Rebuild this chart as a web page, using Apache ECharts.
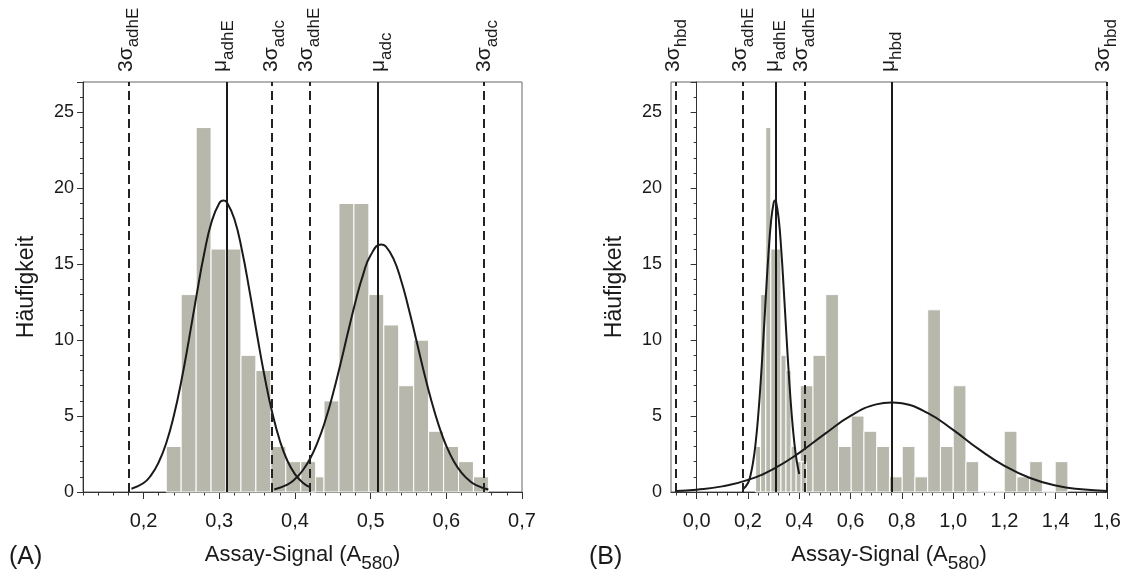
<!DOCTYPE html>
<html>
<head>
<meta charset="utf-8">
<script src="https://cdn.jsdelivr.net/npm/echarts@6/dist/echarts.min.js"></script>
<style>
  html, body { margin: 0; padding: 0; background: #fff; }
  #chart { width: 1129px; height: 579px; }
</style>
</head>
<body>
<div id="chart"></div>
<script>
// ---- Histogram data (bin edges in A580, counts) ----
const adhEEdges  = [0.2300, 0.2497, 0.2695, 0.2892, 0.3090, 0.3287, 0.3484, 0.3682, 0.3879, 0.4077, 0.4274];
const adhECounts = [3, 13, 24, 16, 16, 9, 8, 3, 2, 2];

const adcEdges  = [0.4187, 0.4384, 0.4582, 0.4779, 0.4977, 0.5174, 0.5371, 0.5569, 0.5766, 0.5964, 0.6161, 0.6358, 0.6556];
const adcCounts = [1, 6, 19, 19, 13, 11, 7, 10, 4, 3, 2, 1];

const hbdEdges  = [0.4039, 0.4536, 0.5033, 0.5530, 0.6027, 0.6524, 0.7021, 0.7518, 0.8015, 0.8512, 0.9009,
                   0.9506, 1.0003, 1.0500, 1.0997, 1.1494, 1.1991, 1.2488, 1.2985, 1.3482, 1.3979, 1.4476];
const hbdCounts = [7, 9, 13, 3, 5, 4, 3, 1, 3, 1, 12, 3, 7, 2, 0, 0, 4, 1, 2, 0, 2];

// ---- Fitted normal curves (x in A580, y = frequency) ----
const adhECurveAX = [0.184, 0.20, 0.21, 0.22, 0.23, 0.24, 0.25, 0.26, 0.27, 0.28, 0.29, 0.30, 0.3055, 0.31, 0.32, 0.33, 0.34, 0.35, 0.36, 0.37, 0.38, 0.39, 0.40, 0.41, 0.419];
const adhECurveAY = [0.21, 0.59, 1.11, 1.96, 3.23, 5.02, 7.33, 10.05, 12.95, 15.67, 17.81, 19.02, 19.2, 19.08, 17.98, 15.92, 13.24, 10.34, 7.59, 5.23, 3.39, 2.06, 1.18, 0.63, 0.34];

const adcCurveX = [0.3727, 0.39, 0.40, 0.41, 0.42, 0.43, 0.44, 0.45, 0.46, 0.47, 0.48, 0.49, 0.50, 0.514, 0.52, 0.53, 0.54, 0.55, 0.56, 0.57, 0.58, 0.59, 0.60, 0.61, 0.62, 0.63, 0.64, 0.6555];
const adcCurveY = [0.17, 0.49, 0.85, 1.40, 2.19, 3.28, 4.69, 6.42, 8.40, 10.50, 12.53, 14.30, 15.59, 16.3, 16.17, 15.38, 13.98, 12.14, 10.08, 7.99, 6.06, 4.39, 3.03, 2.01, 1.27, 0.77, 0.44, 0.17];

const adhECurveBX = [0.181, 0.20, 0.21, 0.22, 0.23, 0.24, 0.25, 0.26, 0.27, 0.28, 0.29, 0.30, 0.3055, 0.31, 0.32, 0.33, 0.34, 0.35, 0.36, 0.37, 0.38, 0.39, 0.40];
const adhECurveBY = [0.18, 0.59, 1.11, 1.96, 3.23, 5.02, 7.33, 10.05, 12.95, 15.67, 17.81, 19.02, 19.2, 19.08, 17.98, 15.92, 13.24, 10.34, 7.59, 5.23, 3.39, 2.06, 1.18];

const hbdCurveX = [-0.08, 0.0, 0.1, 0.2, 0.3, 0.4, 0.5, 0.6, 0.7, 0.76, 0.8, 0.9, 1.0, 1.1, 1.2, 1.3, 1.4, 1.5, 1.6];
const hbdCurveY = [0.07, 0.15, 0.37, 0.80, 1.53, 2.58, 3.83, 5.01, 5.77, 5.9, 5.84, 5.21, 4.09, 2.82, 1.72, 0.92, 0.43, 0.18, 0.07];

// ---- Reference lines (mean and 3-sigma limits) ----
const linesAX   = [0.1805, 0.3055, 0.3727, 0.4187, 0.5138, 0.6546];
const linesASym = ['3σ', 'μ', '3σ', '3σ', 'μ', '3σ'];
const linesASub = ['adhE', 'adhE', 'adc', 'adhE', 'adc', 'adc'];

const linesBX   = [-0.08, 0.1806, 0.3065, 0.4195, 0.759, 1.598];
const linesBSym = ['3σ', '3σ', 'μ', '3σ', 'μ', '3σ'];
const linesBSub = ['hbd', 'adhE', 'adhE', 'adhE', 'hbd', 'hbd'];

// ---- Axis ticks ----
const ticksA = [0.2, 0.3, 0.4, 0.5, 0.6, 0.7];
const ticksB = [0.0, 0.2, 0.4, 0.6, 0.8, 1.0, 1.2, 1.4, 1.6];
const rangeA = [0.12, 0.7];
const rangeB = [-0.1, 1.6];
const yMax = 27;

const FONT = "'Liberation Sans', Arial, sans-serif";
const BAR = '#b7b8ab';
const INK = '#1a1a1a';

function minorTicks(from, to, step) {
  const out = [];
  for (let i = 0; from + i * step <= to + 1e-9; i++) out.push(+(from + i * step).toFixed(4));
  return out;
}

function comma(v) { return v.toFixed(1).replace('.', ','); }

function pairs(xs, ys) { return xs.map((x, i) => [x, ys[i]]); }

function bins(edges, counts) { return counts.map((c, i) => [edges[i], edges[i + 1], c]); }

function histSeries(data, axis) {
  return {
    type: 'custom',
    xAxisIndex: axis.x, yAxisIndex: axis.y,
    data: data,
    encode: { x: [0, 1], y: 2 },
    silent: true,
    z: 2,
    renderItem: function (params, api) {
      const p0 = api.coord([api.value(0), 0]);
      const p1 = api.coord([api.value(1), api.value(2)]);
      return {
        type: 'rect',
        shape: { x: p0[0], y: p1[1], width: p1[0] - p0[0], height: p0[1] - p1[1] },
        style: { fill: BAR, stroke: '#ffffff', lineWidth: 1 }
      };
    }
  };
}

function curveSeries(xs, ys, axis) {
  return {
    type: 'line', xAxisIndex: axis.x, yAxisIndex: axis.y,
    data: pairs(xs, ys), smooth: 0.5, showSymbol: false, symbol: 'none', silent: true,
    lineStyle: { color: INK, width: 2 }, z: 4
  };
}

function lineSeries(xs, syms, axis) {
  return {
    type: 'line', xAxisIndex: axis.x, yAxisIndex: axis.y, data: [], silent: true, z: 5,
    markLine: {
      silent: true, symbol: 'none', animation: false,
      label: { show: false },
      data: xs.map((x, i) => ({
        xAxis: x,
        lineStyle: syms[i] === 'μ'
          ? { color: INK, width: 2, type: 'solid' }
          : { color: '#222', width: 2, type: [9, 5] }
      }))
    }
  };
}

function topLabel(xs, syms, subs) {
  return function (value) {
    let k = 0, best = Infinity;
    xs.forEach((x, i) => { const d = Math.abs(x - value); if (d < best) { best = d; k = i; } });
    return '{m|' + syms[k] + '}{s|' + subs[k] + '}';
  };
}

// subscripts: taller line box, bottom aligned, so the smaller text sits lower
const topRich = {
  m: { fontSize: 21, fontFamily: FONT, color: INK, lineHeight: 21, verticalAlign: 'top' },
  s: { fontSize: 17, fontFamily: FONT, color: INK, lineHeight: 27, verticalAlign: 'bottom' }
};

const nameRich = {
  n: { fontSize: 22, fontFamily: FONT, color: INK, lineHeight: 22, verticalAlign: 'top' },
  s: { fontSize: 19, fontFamily: FONT, color: INK, lineHeight: 29, verticalAlign: 'bottom' }
};

function bottomAxes(grid, range, ticks) {
  const minor = range === rangeA ? minorTicks(0.12, 0.7, 0.02) : minorTicks(-0.08, 1.6, 0.04);
  return [
    {
      type: 'value', gridIndex: grid, position: 'bottom', min: range[0], max: range[1],
      name: '{n|Assay-Signal (A}{s|580}{n|)}', nameLocation: 'middle', nameGap: 52,
      nameTextStyle: { rich: nameRich },
      axisLine: { show: true, onZero: false, lineStyle: { color: '#333', width: 1 } },
      axisTick: { show: true, customValues: ticks, length: 7, lineStyle: { color: '#333' } },
      axisLabel: { customValues: ticks, formatter: comma, fontSize: 20, fontFamily: FONT, color: INK, margin: 19 },
      splitLine: { show: false }
    },
    {
      type: 'value', gridIndex: grid, position: 'bottom', min: range[0], max: range[1],
      axisLine: { show: false },
      axisTick: { show: true, customValues: minor, length: 3.5, lineStyle: { color: '#333' } },
      axisLabel: { show: false },
      splitLine: { show: false }
    }
  ];
}

function topAxis(grid, range, xs, syms, subs) {
  return {
    type: 'value', gridIndex: grid, position: 'top', min: range[0], max: range[1],
    axisLine: { show: false },
    axisTick: { show: false },
    axisLabel: {
      customValues: xs, rotate: -90, margin: 10,
      formatter: topLabel(xs, syms, subs), rich: topRich
    },
    splitLine: { show: false }
  };
}

function yAxis(grid) {
  return {
    type: 'value', gridIndex: grid, min: 0, max: yMax, interval: 5,
    name: 'Häufigkeit', nameLocation: 'middle', nameGap: 45,
    nameTextStyle: { fontSize: 23, fontFamily: FONT, color: INK },
    axisLine: { show: true, lineStyle: { color: '#333', width: 1 } },
    axisTick: { show: true, length: 6, lineStyle: { color: '#333' } },
    minorTick: { show: true, splitNumber: 5, length: 3, lineStyle: { color: '#333' } },
    axisLabel: { fontSize: 18, fontFamily: FONT, color: INK, margin: 9, showMaxLabel: false },
    splitLine: { show: false }
  };
}

const xAxes = [
  ...bottomAxes(0, rangeA, ticksA),                       // 0, 1
  topAxis(0, rangeA, linesAX, linesASym, linesASub),      // 2
  ...bottomAxes(1, rangeB, ticksB),                       // 3, 4
  topAxis(1, rangeB, linesBX, linesBSym, linesBSub)       // 5
];

const A = { x: 0, y: 0 };
const B = { x: 3, y: 1 };

const option = {
  animation: false,
  backgroundColor: '#ffffff',
  grid: [
    { left: 83, right: 607, top: 82, bottom: 87, show: true, borderColor: '#666', borderWidth: 1, outerBoundsMode: 'none' },
    { left: 671, right: 22, top: 82, bottom: 87, show: true, borderColor: '#666', borderWidth: 1, outerBoundsMode: 'none' }
  ],
  xAxis: xAxes,
  yAxis: [yAxis(0), yAxis(1)],
  graphic: [
    { type: 'text', left: 9, top: 545, style: { text: '(A)', fontSize: 25, fontFamily: FONT, fill: INK } },
    { type: 'text', left: 589, top: 545, style: { text: '(B)', fontSize: 25, fontFamily: FONT, fill: INK } }
  ],
  series: [
    histSeries(bins(adcEdges, adcCounts), A),
    histSeries(bins(adhEEdges, adhECounts), A),
    curveSeries(adhECurveAX, adhECurveAY, A),
    curveSeries(adcCurveX, adcCurveY, A),
    lineSeries(linesAX, linesASym, A),

    histSeries(bins(hbdEdges, hbdCounts), B),
    histSeries(bins(adhEEdges, adhECounts), B),
    curveSeries(adhECurveBX, adhECurveBY, B),
    curveSeries(hbdCurveX, hbdCurveY, B),
    lineSeries(linesBX, linesBSym, B)
  ]
};

const chart = echarts.init(document.getElementById('chart'), null, { renderer: 'canvas' });
chart.setOption(option);
</script>
</body>
</html>
